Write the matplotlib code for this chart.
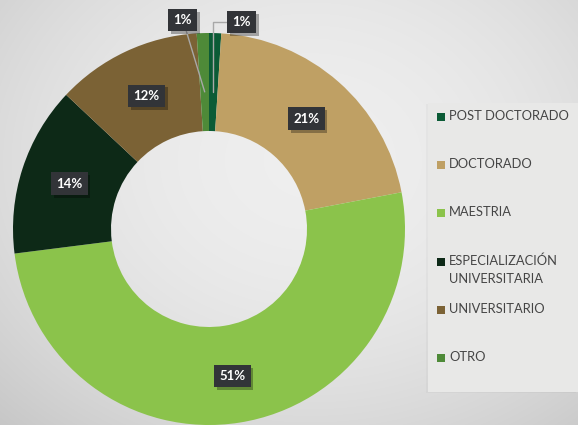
import matplotlib
matplotlib.use('Agg')
import matplotlib.pyplot as plt
import matplotlib.patheffects as pe
from matplotlib.patches import Rectangle
import numpy as np

# Datos del gráfico (nivel de formación)
categorias = ['POST DOCTORADO', 'DOCTORADO', 'MAESTRIA',
              'ESPECIALIZACIÓN\nUNIVERSITARIA', 'UNIVERSITARIO', 'OTRO']
porcentajes = [1, 21, 51, 14, 12, 1]

colores = ['#0b5b36', '#bfa064', '#8bc34b', '#0d2917', '#7b6235', '#4e8a38']

W, H = 578, 425
plt.rcParams['font.family'] = ['Lato', 'DejaVu Sans']

fig = plt.figure(figsize=(W / 100, H / 100), dpi=100)

# fondo con degradado radial gris
bg = fig.add_axes([0, 0, 1, 1])
yy, xx = np.mgrid[0:H, 0:W]
d = np.hypot((xx - 310) / 420, (yy - 160) / 340)
grad = np.clip(0.935 - 0.135 * d ** 2, 0, 1)
bg.imshow(np.dstack([grad, grad, grad]), extent=(0, W, H, 0), aspect='auto')
bg.axis('off')

# anillo: centro en (209, 229) px, radio 196 px
cx, cy, r_px = 209, 229, 196
ax = fig.add_axes([0, 0, 1, 1])
ax.patch.set_alpha(0)
wedges, _ = ax.pie(porcentajes, colors=colores, startangle=90, counterclock=False,
                   radius=1, wedgeprops=dict(width=0.5, linewidth=0))
ax.set_aspect('auto')
ax.set_xlim(-cx / r_px, (W - cx) / r_px)
ax.set_ylim(-(H - cy) / r_px, cy / r_px)
ax.axis('off')

caja = dict(boxstyle='square,pad=0.4', fc='#323438', ec='none')
estilo = dict(color='white', fontsize=9.5, fontweight='bold', ha='center', va='center')

# distancia radial de cada etiqueta (None = etiqueta fuera con guía)
radios = [None, 0.75, 0.76, 0.75, 0.75, None]
etiquetas = []
for w, p, rr in zip(wedges, porcentajes, radios):
    ang = np.deg2rad((w.theta1 + w.theta2) / 2)
    if rr is not None:
        t = ax.text(rr * np.cos(ang), rr * np.sin(ang), f'{p}%', bbox=caja, **estilo)
        etiquetas.append(t)

# etiquetas pequeñas con líneas guía
ang_post = np.deg2rad((wedges[0].theta1 + wedges[0].theta2) / 2)
ang_otro = np.deg2rad((wedges[5].theta1 + wedges[5].theta2) / 2)
t1 = ax.annotate(f'{porcentajes[0]}%', xy=(0.7 * np.cos(ang_post), 0.7 * np.sin(ang_post)),
                 xytext=(0.165, 1.055), bbox=caja, **estilo,
                 arrowprops=dict(arrowstyle='-', color='#a8a8a8', lw=1,
                                 connectionstyle='angle,angleA=0,angleB=90,rad=0',
                                 shrinkA=0, shrinkB=0))
t2 = ax.annotate(f'{porcentajes[5]}%', xy=(0.7 * np.cos(ang_otro), 0.7 * np.sin(ang_otro)),
                 xytext=(-0.133, 1.066), bbox=caja, **estilo,
                 arrowprops=dict(arrowstyle='-', color='#a8a8a8', lw=1,
                                 shrinkA=0, shrinkB=0))
etiquetas += [t1, t2]
for t in etiquetas:
    t.get_bbox_patch().set_path_effects([
        pe.SimplePatchShadow(offset=(2, -2), shadow_rgbFace='k', alpha=0.3),
        pe.Normal()])

# leyenda manual
fig.patches.append(Rectangle((428 / W, 1 - 392 / H), 150 / W, 289 / H,
                             transform=fig.transFigure, fc='#e8e8e7', ec='none',
                             zorder=1, path_effects=[
                                 pe.SimplePatchShadow(offset=(-1.5, -1), alpha=0.04),
                                 pe.Normal()]))
y0, paso = 116.7, 48.3
for i, (cat, col) in enumerate(zip(categorias, colores)):
    yc = y0 + i * paso
    fig.patches.append(Rectangle((437 / W, 1 - (yc + 4) / H), 8 / W, 8 / H,
                                 transform=fig.transFigure, fc=col, ec='none', zorder=3))
    fig.text(449 / W, 1 - (yc - 7) / H, cat, fontsize=9.3, color='#454545',
             ha='left', va='top', linespacing=1.55, zorder=3)

fig.savefig('out.png', dpi=100)
